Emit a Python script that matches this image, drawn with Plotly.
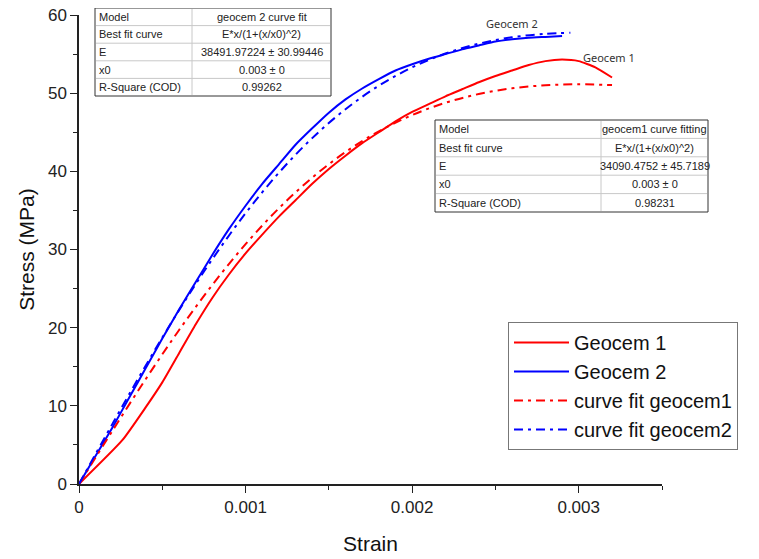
import plotly.graph_objects as go

strain_g1 = [0, 0.00026, 0.0004, 0.0005, 0.0006, 0.0007, 0.0008, 0.0009, 0.001, 0.0011,
             0.0012, 0.0013, 0.0014, 0.0015, 0.0016, 0.0017, 0.0018, 0.0019, 0.002, 0.0021,
             0.0022, 0.0023, 0.0024, 0.0025, 0.0026, 0.0027, 0.0028, 0.0029, 0.003, 0.0031, 0.0032]
stress_g1 = [0, 5.6, 9.8, 13.0, 16.7, 20.4, 23.8, 26.8, 29.5, 31.9,
             34.2, 36.3, 38.4, 40.3, 42.0, 43.6, 45.0, 46.4, 47.6, 48.6,
             49.6, 50.5, 51.4, 52.2, 52.9, 53.6, 54.1, 54.3, 54.1, 53.3, 52.0]

strain_g2 = [0, 0.0001, 0.0002, 0.0003, 0.0004, 0.0005, 0.0006, 0.0007, 0.0008, 0.0009,
             0.001, 0.0011, 0.0012, 0.0013, 0.0014, 0.0015, 0.0016, 0.0017, 0.0018, 0.0019,
             0.002, 0.0021, 0.0022, 0.0023, 0.0024, 0.0025, 0.0026, 0.0027, 0.0028, 0.0029]
stress_g2 = [0, 3.6, 7.2, 11.0, 14.8, 18.6, 22.3, 25.8, 29.3, 32.6,
             35.6, 38.4, 40.9, 43.4, 45.5, 47.5, 49.2, 50.6, 51.8, 52.9,
             53.7, 54.4, 55.0, 55.6, 56.1, 56.6, 56.9, 57.1, 57.2, 57.3]

# fitted curves
strain_fit1 = [0, 0.0002, 0.0004, 0.0006, 0.0008, 0.001, 0.0012, 0.0014, 0.0016,
               0.0018, 0.002, 0.0022, 0.0024, 0.0026, 0.0028, 0.003, 0.0032]
stress_fit1 = [0, 6.79, 13.40, 19.67, 25.46, 30.68, 35.27, 39.19, 42.47,
               45.12, 47.20, 48.77, 49.89, 50.62, 51.01, 51.14, 51.03]
strain_fit2 = [0, 0.0002, 0.0004, 0.0006, 0.0008, 0.001, 0.0012, 0.0014, 0.0016,
               0.0018, 0.002, 0.0022, 0.0024, 0.0026, 0.0028, 0.00295]
stress_fit2 = [0, 7.66, 15.13, 22.21, 28.75, 34.64, 39.82, 44.25, 47.95,
               50.95, 53.30, 55.07, 56.33, 57.15, 57.60, 57.72]

# fit result tables
table1_labels = ['Model', 'Best fit curve', 'E', 'x0', 'R-Square (COD)']
table1_values = ['geocem 2 curve fit', 'E*x/(1+(x/x0)^2)', '38491.97224 ± 30.99446', '0.003 ± 0', '0.99262']
table2_labels = ['Model', 'Best fit curve', 'E', 'x0', 'R-Square (COD)']
table2_values = ['geocem1 curve fitting', 'E*x/(1+(x/x0)^2)', '34090.4752 ± 45.7189', '0.003 ± 0', '0.98231']

# the page body adds an 8px margin, so the figure is drawn 8px smaller
OFF = 8
W, H = 759 - OFF, 559 - OFF
ML, MT = 79 - OFF, 15 - OFF
MR, MB = W - (662 - OFF), H - (484 - OFF)
PW, PH = W - ML - MR, H - MT - MB


def px_x(p):
    """reference pixel x -> paper x"""
    return (p - OFF - ML) / PW


def px_y(p):
    """reference pixel y -> paper y"""
    return (H - MB - (p - OFF)) / PH


dash = '9px,5px,3px,5px'
fig = go.Figure()
fig.add_trace(go.Scatter(x=strain_g1, y=stress_g1, name='Geocem 1', mode='lines',
                         line=dict(color='#ff0000', width=2, shape='spline', smoothing=0.5)))
fig.add_trace(go.Scatter(x=strain_g2, y=stress_g2, name='Geocem 2', mode='lines',
                         line=dict(color='#0000ff', width=2, shape='spline', smoothing=0.5)))
fig.add_trace(go.Scatter(x=strain_fit1, y=stress_fit1, name='curve fit geocem1', mode='lines',
                         line=dict(color='#ff0000', width=2, dash=dash, shape='spline')))
fig.add_trace(go.Scatter(x=strain_fit2, y=stress_fit2, name='curve fit geocem2', mode='lines',
                         line=dict(color='#0000ff', width=2, dash=dash, shape='spline')))


def add_table(x0, x1, y0, y1, split, labels, values):
    """Draw a small result table with shapes and annotations (paper coords)"""
    n = len(labels)
    rh = (y1 - y0) / n
    fig.add_shape(type='rect', xref='paper', yref='paper', layer='above',
                  x0=px_x(x0), x1=px_x(x1), y0=px_y(y1), y1=px_y(y0),
                  fillcolor='white', line=dict(color='#333', width=1))
    for i in range(1, n):
        yy = px_y(y0 + i * rh)
        fig.add_shape(type='line', xref='paper', yref='paper', layer='above',
                      x0=px_x(x0 + 1), x1=px_x(x1 - 1), y0=yy, y1=yy,
                      line=dict(color='#c8c8c8', width=1))
    fig.add_shape(type='line', xref='paper', yref='paper', layer='above',
                  x0=px_x(split), x1=px_x(split), y0=px_y(y1 - 1), y1=px_y(y0 + 1),
                  line=dict(color='#c8c8c8', width=1))
    for i in range(n):
        yc = px_y(y0 + (i + 0.5) * rh)
        fig.add_annotation(xref='paper', yref='paper', x=px_x(x0 + 2), y=yc,
                           xanchor='left', yanchor='middle', showarrow=False,
                           text=labels[i], font=dict(family='Arial', size=11, color='#222'))
        fig.add_annotation(xref='paper', yref='paper', x=px_x((split + x1) / 2), y=yc,
                           xanchor='center', yanchor='middle', showarrow=False,
                           text=values[i], font=dict(family='Arial', size=11, color='#222'))


add_table(95, 331, 8, 96, 192, table1_labels, table1_values)
add_table(435, 708, 120, 212, 601, table2_labels, table2_values)

fig.add_annotation(x=0.0026, y=58.9, text='Geocem 2', showarrow=False,
                   font=dict(family='Noto Sans', size=11, color='#333'))
fig.add_annotation(x=0.00318, y=54.6, text='Geocem 1', showarrow=False,
                   font=dict(family='Noto Sans', size=11, color='#333'))

axis_font = dict(family='Arial', size=17, color='#222')
fig.update_layout(
    width=W, height=H,
    margin=dict(l=ML, r=MR, t=MT, b=MB, autoexpand=False),
    plot_bgcolor='white', paper_bgcolor='white',
    showlegend=True,
    legend=dict(x=px_x(508), y=px_y(322), xanchor='left', yanchor='top',
                bordercolor='#777', borderwidth=1, bgcolor='white',
                font=dict(family='Arial', size=20, color='#111'),
                tracegroupgap=0, itemwidth=55),
    xaxis=dict(range=[0, 0.0035],
               tickvals=[0, 0.001, 0.002, 0.003], ticktext=['0', '0.001', '0.002', '0.003'],
               ticks='outside', ticklen=7, tickcolor='#222', tickwidth=1,
               minor=dict(tickvals=[0.0005, 0.0015, 0.0025, 0.0035], ticks='outside',
                          ticklen=4, tickcolor='#222'),
               showline=True, linecolor='#222', linewidth=1.5, showgrid=False, zeroline=False,
               tickfont=axis_font, ticklabeloverflow='allow',
               title=dict(text='Strain', font=dict(family='Arial', size=21, color='#111'),
                          standoff=20)),
    yaxis=dict(range=[0, 60],
               tickvals=[0, 10, 20, 30, 40, 50, 60],
               ticks='outside', ticklen=7, tickcolor='#222', tickwidth=1,
               minor=dict(tickvals=[5, 15, 25, 35, 45, 55], ticks='outside',
                          ticklen=4, tickcolor='#222'),
               showline=True, linecolor='#222', linewidth=1.5, showgrid=False, zeroline=False,
               tickfont=axis_font, ticklabeloverflow='allow',
               title=dict(text='Stress (MPa)', font=dict(family='Arial', size=21, color='#111'),
                          standoff=8)),
)

fig.write_html('out.html')
